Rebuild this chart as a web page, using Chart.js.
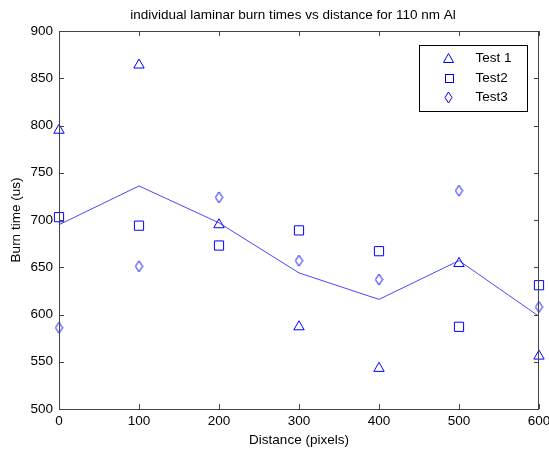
<!DOCTYPE html>
<html>
<head>
<meta charset="utf-8">
<script src="https://cdn.jsdelivr.net/npm/chart.js@4.4.0/dist/chart.umd.min.js"></script>
<style>
  html, body { margin: 0; padding: 0; background: #fff; }
  #wrap { width: 549px; height: 453px; }
</style>
</head>
<body>
<div id="wrap"><canvas id="burnChart" width="549" height="453"></canvas></div>
<script>
const distances = [0, 100, 200, 300, 400, 500, 600];
const test1 = [795, 864, 695, 587, 543, 654, 556];
const test2 = [703, 694, 673, 689, 667, 587, 631];
const test3 = [586, 651, 724, 657, 637, 731, 608];
const meanLine = [695, 736, 697, 644, 616, 657, 598];
const xTicks = [0, 100, 200, 300, 400, 500, 600];
const yTicks = [500, 550, 600, 650, 700, 750, 800, 850, 900];
const chartTitle = 'individual laminar burn times vs distance for 110 nm Al';

const blue = '#0000ff';
const font = "'Liberation Sans', Arial, sans-serif";
const fs = 13.5;

// taller-than-wide diamond like matlab's 'd' marker
function diamondMarker() {
  const c = document.createElement('canvas');
  c.width = 9; c.height = 13;
  const g = c.getContext('2d');
  g.strokeStyle = blue;
  g.lineWidth = 1;
  g.beginPath();
  g.moveTo(4.5, 1); g.lineTo(8, 6.5); g.lineTo(4.5, 12); g.lineTo(1, 6.5); g.closePath();
  g.stroke();
  return c;
}
const diamond = diamondMarker();

const toPts = arr => arr.map((v, i) => ({ x: distances[i], y: v }));

// matlab style box with inward ticks, title and legend box
const boxPlugin = {
  id: 'boxPlugin',
  afterDatasetsDraw(chart) {
    const { ctx, chartArea: a, scales } = chart;
    ctx.save();
    ctx.strokeStyle = '#444';
    ctx.lineWidth = 1;
    ctx.strokeRect(Math.round(a.left) + 0.5, Math.round(a.top) + 0.5, Math.round(a.right - a.left) - 1, Math.round(a.bottom - a.top));
    ctx.beginPath();
    xTicks.forEach(t => {
      const px = Math.round(scales.x.getPixelForValue(t)) + 0.5;
      ctx.moveTo(px, a.bottom); ctx.lineTo(px, a.bottom - 5);
      ctx.moveTo(px, a.top); ctx.lineTo(px, a.top + 5);
    });
    yTicks.forEach(t => {
      const py = Math.round(scales.y.getPixelForValue(t)) + 0.5;
      ctx.moveTo(a.left, py); ctx.lineTo(a.left + 5, py);
      ctx.moveTo(a.right, py); ctx.lineTo(a.right - 5, py);
    });
    ctx.stroke();

    // title
    ctx.fillStyle = '#000';
    ctx.font = fs + 'px ' + font;
    ctx.textAlign = 'center';
    ctx.textBaseline = 'middle';
    ctx.fillText(chartTitle, 293, 15.5);

    // legend
    const lx = 419.5, ly = 45.5, lw = 108, lh = 66;
    ctx.fillStyle = '#fff';
    ctx.fillRect(lx, ly, lw, lh);
    ctx.strokeStyle = '#000';
    ctx.strokeRect(lx, ly, lw, lh);
    ctx.fillStyle = '#000';
    ctx.textAlign = 'left';
    const names = ['Test 1', 'Test2', 'Test3'];
    names.forEach((n, i) => {
      const cy = ly + 13 + i * 19.5;
      ctx.fillText(n, lx + 56, cy);
    });
    ctx.strokeStyle = blue;
    // triangle
    let cx = lx + 29, cy = ly + 13;
    ctx.beginPath();
    ctx.moveTo(cx, cy - 5); ctx.lineTo(cx + 5, cy + 4); ctx.lineTo(cx - 5, cy + 4); ctx.closePath();
    ctx.stroke();
    // square
    cy = ly + 32.5;
    ctx.strokeRect(Math.round(cx - 4) + 0.5, Math.round(cy - 4) + 0.5, 8, 8);
    // diamond
    cy = ly + 52;
    ctx.drawImage(diamond, Math.round(cx - 4.5), Math.round(cy - 6.5));
    ctx.restore();
  }
};

new Chart(document.getElementById('burnChart'), {
  type: 'scatter',
  data: {
    datasets: [
      {
        label: 'mean',
        type: 'line',
        data: toPts(meanLine),
        borderColor: 'rgba(40,40,255,0.85)',
        borderWidth: 1,
        pointRadius: 0,
        tension: 0,
        fill: false
      },
      {
        label: 'Test 1',
        data: toPts(test1),
        pointStyle: 'triangle',
        pointRadius: 6,
        borderColor: blue,
        backgroundColor: 'transparent',
        borderWidth: 1
      },
      {
        label: 'Test2',
        data: toPts(test2),
        pointStyle: 'rect',
        pointRadius: 6.5,
        borderColor: blue,
        backgroundColor: 'transparent',
        borderWidth: 1
      },
      {
        label: 'Test3',
        data: toPts(test3),
        pointStyle: diamond,
        borderColor: blue,
        backgroundColor: 'transparent'
      }
    ]
  },
  options: {
    responsive: false,
    animation: false,
    clip: false,
    layout: { padding: { left: 0, right: 10, top: 31, bottom: 0 } },
    plugins: {
      legend: { display: false },
      tooltip: { enabled: false },
      title: { display: false }
    },
    scales: {
      x: {
        type: 'linear',
        min: 0, max: 600,
        afterFit: s => { s.height = 44; s.paddingLeft = 0; s.paddingRight = 0; },
        afterBuildTicks: s => { s.ticks = xTicks.map(v => ({ value: v })); },
        grid: { display: false, drawTicks: false },
        border: { display: false },
        ticks: { color: '#000', font: { family: font, size: fs }, padding: 4, maxRotation: 0 },
        title: { display: true, text: 'Distance (pixels)', color: '#000', font: { family: font, size: fs }, padding: { top: 0, bottom: 4.8 } }
      },
      y: {
        min: 500, max: 900,
        afterFit: s => { s.width = 59; s.paddingTop = 0; s.paddingBottom = 0; },
        afterBuildTicks: s => { s.ticks = yTicks.map(v => ({ value: v })); },
        grid: { display: false, drawTicks: false },
        border: { display: false },
        ticks: { color: '#000', font: { family: font, size: fs }, padding: 6 },
        title: { display: true, text: 'Burn time (us)', color: '#000', font: { family: font, size: fs }, padding: { top: 8, bottom: 0 } }
      }
    }
  },
  plugins: [boxPlugin]
});
</script>
</body>
</html>
